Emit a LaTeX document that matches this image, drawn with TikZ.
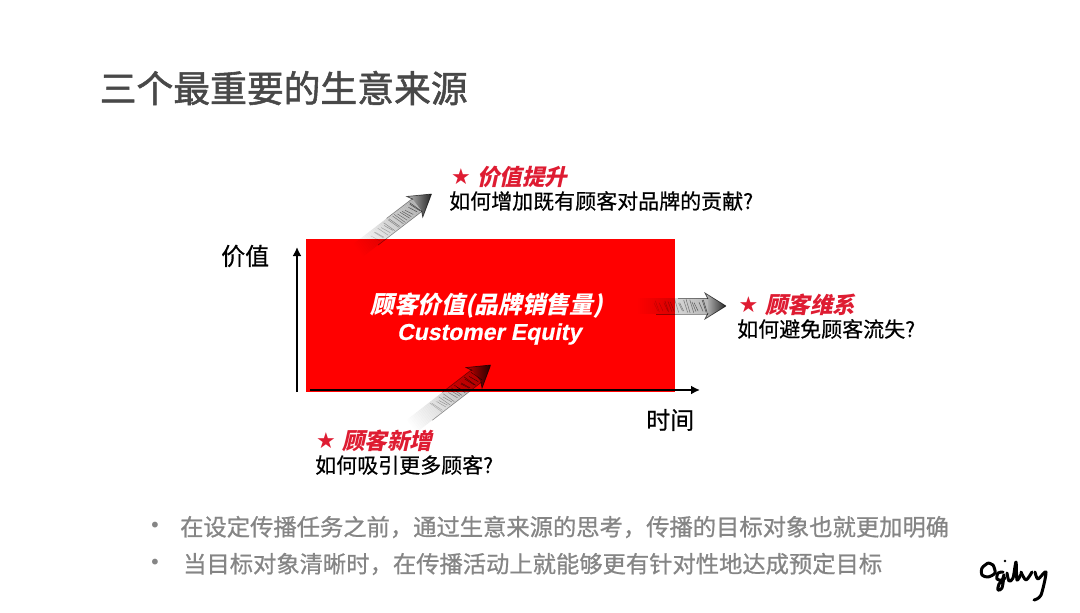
\documentclass[tikz,border=0pt]{standalone}
\usepackage{fontspec}
\setmainfont{Liberation Sans}
\newfontfamily\cjk[FakeBold=0.5]{Noto Sans CJK SC}
\newfontfamily\cjktitle[FakeBold=1.5]{Noto Sans CJK SC}
\newfontfamily\cjkbullet[FakeBold=0.8]{Noto Sans CJK SC}
\newfontfamily\cjkslant[FakeSlant=0.22,BoldFeatures={FakeSlant=0.22}]{Noto Sans CJK SC}
\newfontfamily\latinslant[FakeSlant=0.2,BoldFeatures={FakeSlant=0.2,FakeBold=0.4}]{Liberation Sans}
\newfontfamily\starfont{DejaVu Sans}
\usetikzlibrary{positioning,calc,arrows.meta}
\definecolor{ogred}{RGB}{255,0,0}
\definecolor{ogstar}{RGB}{222,28,50}
\definecolor{oggray}{RGB}{133,133,133}
\definecolor{ogtitle}{RGB}{72,72,72}
\newcommand{\fwc}{\symbol{"FF0C}}
\tikzset{
  plain/.style={inner sep=0pt, anchor=west},
  axislabel/.style={plain, font=\cjk\fontsize{24}{28}\selectfont, text=black},
  question/.style={plain, font=\cjk\fontsize{21}{24}\selectfont, text=black},
  starhead/.style={plain, font=\cjkslant\bfseries\fontsize{22.5}{26}\selectfont, text=ogstar},
  starmark/.style={plain, font=\starfont\fontsize{22}{26}\selectfont, text=ogstar},
  bullet/.style={plain, font=\cjkbullet\fontsize{23.3}{28}\selectfont, text=oggray},
  dotmark/.style={inner sep=0pt, font=\starfont\fontsize{20}{24}\selectfont, text=oggray},
  axisline/.style={line width=2.4pt, -{Latex[length=9pt,width=9pt]}},
  pen/.style={line width=3pt, line cap=round, line join=round}
}
% tip of the arrow sits at the origin of the scope, pointing east
\newcommand{\sketcharrow}[1]{%
  \begin{scope}[blend mode=multiply]
  \foreach \d in {18,20,...,#1} {
    \pgfmathsetmacro{\o}{max(0,1-(\d-18)/(#1-18))}
    \fill[black!28, opacity=\o] (-\d-2,8) rectangle (-\d,-8);
  }
  \foreach \d in {20,23,...,72} {
    \pgfmathsetmacro{\o}{max(0,1-\d/#1)}
    \pgfmathsetmacro{\r}{rnd*3}
    \pgfmathsetmacro{\s}{rnd*4}
    \draw[black!80, line width=0.5pt, opacity=\o] (-\d-\r,-7+\s) -- (-\d+4-\r,7-\s*0.5);
  }
  \draw[black!70, line width=0.6pt, opacity=0.6] (-18,8) -- (-#1*0.8,8);
  \draw[black!70, line width=0.6pt, opacity=0.6] (-18,-8) -- (-#1*0.55,-8);
  \shade[left color=black!25, right color=black!85]
    (0,0) -- (-21,13) -- (-18,7) -- (-18,-7) -- (-21,-13) -- cycle;
  \draw[black!65, line width=0.7pt]
    (0,0) -- (-21,13) -- (-18,7) (-18,-7) -- (-21,-13) -- (0,0);
  \end{scope}
}
\begin{document}
\begin{tikzpicture}[x=1pt,y=-1pt]
\pgfmathsetseed{7}
\useasboundingbox (0,0) rectangle (1080,613);
\node[plain, font=\cjktitle\fontsize{36.8}{42}\selectfont, text=ogtitle] (title) at (99.5,88) {三个最重要的生意来源};
% axes and box
\coordinate (ybase) at (297,392);
\coordinate (ytip) at (297,247);
\coordinate (xbase) at (310,390);
\coordinate (xtip) at (700,390);
\draw[axisline] (ybase) -- (ytip);
\node[fill=ogred, inner sep=0pt, minimum width=369pt, minimum height=153pt] (equity) at (490.5,315.5) {};
\begin{scope}[shift={(431.5,194)}, rotate=37.5]
\sketcharrow{92}
\end{scope}
\begin{scope}[shift={(726,306)}]
\sketcharrow{88}
\end{scope}
\begin{scope}[shift={(490.7,365)}, rotate=37.7]
\sketcharrow{100}
\end{scope}
\draw[axisline] (xbase) -- (xtip);
\node[plain, font=\cjkslant\bfseries\fontsize{23.7}{27}\selectfont, text=white, anchor=center] (equitycn) at (486.5,306) {顾客价值(品牌销售量)};
\node[plain, font=\latinslant\bfseries\fontsize{23}{26}\selectfont, text=white, anchor=center] (equityen) at (489,334) {Customer Equity};
\node[axislabel] (ylabel) at (221,256) {价值};
\node[axislabel] (xlabel) at (646,420) {时间};
% three sources
\node[starmark] (star1) at (451,177) {★};
\node[starhead] (head1) at (477,177) {价值提升};
\node[question] (q1) at (449,201) {如何增加既有顾客对品牌的贡献?};
\node[starmark] (star2) at (738.5,305) {★};
\node[starhead] (head2) at (765,305) {顾客维系};
\node[question] (q2) at (737,329) {如何避免顾客流失?};
\node[starmark] (star3) at (316,441) {★};
\node[starhead] (head3) at (342,441) {顾客新增};
\node[question] (q3) at (315,465) {如何吸引更多顾客?};
% bullets
\node[dotmark] (dot1) at (155,527) {•};
\node[bullet] (line1) at (180,527) {在设定传播任务之前\fwc 通过生意来源的思考\fwc 传播的目标对象也就更加明确};
\node[dotmark] (dot2) at (155,564) {•};
\node[bullet] (line2) at (183,564) {当目标对象清晰时\fwc 在传播活动上就能够更有针对性地达成预定目标};
% signature
\draw[pen] plot[smooth] coordinates {(988,563) (982,568) (982,575) (988,577) (995,573) (993,565) (988,563)};
\draw[pen] plot[smooth] coordinates {(1003,572) (998,573) (997,579) (1002,580) (1004,575) (1002,588) (998,590) (999,584) (1005,578)};
\fill (1005,561) circle (1.4pt);
\draw[pen] plot[smooth] coordinates {(1007,573) (1009,581) (1013,578) (1016,562) (1017,580) (1021,574)};
\draw[pen] plot[smooth] coordinates {(1021,572) (1026,580) (1032,572)};
\draw[pen] plot[smooth] coordinates {(1035,572) (1038,579) (1046,572) (1041,595) (1034,600)};
\end{tikzpicture}
\end{document}
